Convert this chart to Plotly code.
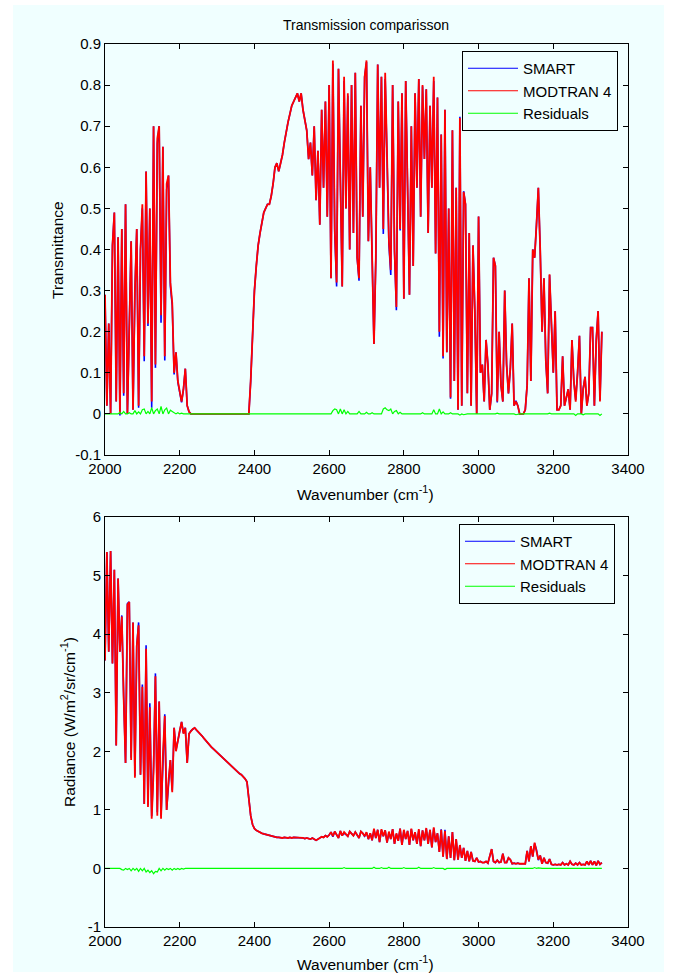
import numpy as np
import plotly.graph_objects as go

# ---------------- data ----------------
wn_start, wn_stop, wn_step = 2000, 3330, 5
wavenumber = np.arange(wn_start, wn_stop + 1, wn_step)

trans_modtran = [
    0.29, 0.02, 0.22, 0.00, 0.41, 0.49, 0.03, 0.43, 0.00, 0.45,
    0.05, 0.51, 0.00, 0.23, 0.42, 0.01, 0.30, 0.45, 0.02, 0.40,
    0.51, 0.14, 0.59, 0.22, 0.50, 0.03, 0.70, 0.12, 0.67, 0.70,
    0.24, 0.65, 0.14, 0.56, 0.58, 0.32, 0.27, 0.10, 0.15, 0.08,
    0.05, 0.03, 0.06, 0.11, 0.02, 0.005, 0.0, 0.0, 0.0, 0.0,
    0.0, 0.0, 0.0, 0.0, 0.0, 0.0, 0.0, 0.0, 0.0, 0.0,
    0.0, 0.0, 0.0, 0.0, 0.0, 0.0, 0.0, 0.0, 0.0, 0.0,
    0.0, 0.0, 0.0, 0.0, 0.0, 0.0, 0.0, 0.0, 0.08, 0.20,
    0.30, 0.36, 0.41, 0.44, 0.47, 0.49, 0.50, 0.51, 0.51, 0.53,
    0.56, 0.60, 0.61, 0.59, 0.61, 0.63, 0.66, 0.69, 0.71, 0.73,
    0.75, 0.76, 0.77, 0.78, 0.76, 0.78, 0.74, 0.71, 0.69, 0.62,
    0.66, 0.58, 0.70, 0.52, 0.64, 0.46, 0.74, 0.55, 0.76, 0.48,
    0.80, 0.33, 0.86, 0.45, 0.32, 0.84, 0.58, 0.31, 0.82, 0.50,
    0.78, 0.40, 0.80, 0.44, 0.83, 0.38, 0.33, 0.75, 0.48, 0.82,
    0.86, 0.42, 0.60, 0.35, 0.17, 0.38, 0.85, 0.55, 0.82, 0.45,
    0.83, 0.63, 0.42, 0.35, 0.80, 0.40, 0.26, 0.76, 0.45, 0.78,
    0.28, 0.81, 0.50, 0.29, 0.70, 0.36, 0.78, 0.55, 0.815, 0.48,
    0.80, 0.62, 0.79, 0.44, 0.75, 0.55, 0.82, 0.39, 0.77, 0.20,
    0.68, 0.14, 0.74, 0.15, 0.50, 0.04, 0.69, 0.08, 0.55, 0.01,
    0.72, 0.02, 0.54, 0.51, 0.05, 0.44, 0.02, 0.41, 0.25, 0.00,
    0.48, 0.10, 0.12, 0.03, 0.18, 0.12, 0.01, 0.05, 0.38, 0.36,
    0.03, 0.20, 0.07, 0.03, 0.30, 0.12, 0.05, 0.11, 0.22, 0.02,
    0.03, 0.02, 0.00, 0.00, 0.00, 0.01, 0.07, 0.33, 0.08, 0.40,
    0.38, 0.46, 0.55, 0.40, 0.20, 0.33, 0.13, 0.05, 0.34, 0.22,
    0.10, 0.25, 0.01, 0.01, 0.02, 0.14, 0.02, 0.04, 0.06, 0.01,
    0.18, 0.08, 0.03, 0.10, 0.19, 0.00, 0.06, 0.09, 0.02, 0.05,
    0.21, 0.21, 0.02, 0.18, 0.25, 0.03, 0.20,
]

# residuals (MODTRAN - SMART), non-zero points only
trans_residual_pts = {
    2040: 0.004, 2050: 0.006, 2065: 0.003, 2080: 0.008, 2090: 0.005,
    2100: 0.010, 2105: 0.012, 2115: 0.006, 2125: 0.015, 2135: 0.008,
    2140: 0.012, 2150: 0.018, 2160: 0.010, 2165: 0.014, 2175: 0.009,
    2180: 0.006, 2185: 0.004, 2195: 0.003, 2205: 0.002,
    2610: 0.008, 2615: 0.012, 2620: 0.010, 2630: 0.012, 2640: 0.010,
    2650: 0.006, 2680: 0.006, 2700: 0.004, 2715: 0.003, 2745: 0.012,
    2750: 0.015, 2755: 0.010, 2760: 0.008, 2765: 0.012, 2775: 0.006,
    2780: 0.008, 2790: 0.004, 2850: 0.003, 2880: 0.010, 2895: 0.012,
    2905: 0.005, 2925: 0.003, 2950: -0.003, 2960: -0.002, 3050: 0.002,
    3100: -0.002, 3190: 0.002, 3260: -0.004, 3280: -0.002, 3325: -0.004,
}

rad_modtran = [
    3.55, 5.40, 3.70, 5.42, 3.50, 5.10, 2.10, 4.95, 3.70, 4.30,
    2.90, 1.80, 4.50, 4.55, 1.85, 4.20, 1.55, 3.80, 4.15, 1.60,
    3.10, 1.10, 3.75, 1.05, 2.75, 0.85, 1.65, 3.28, 0.90, 2.85,
    0.85, 1.95, 2.60, 1.00, 1.50, 1.85, 1.30, 2.40, 2.00, 2.20,
    2.35, 2.50, 2.30, 2.40, 1.80, 2.30, 2.35, 2.38, 2.40, 2.36,
    2.33, 2.30, 2.26, 2.22, 2.18, 2.13, 2.10, 2.07, 2.04, 2.01,
    1.98, 1.95, 1.92, 1.89, 1.86, 1.82, 1.79, 1.76, 1.73, 1.70,
    1.68, 1.65, 1.62, 1.60, 1.57, 1.53, 1.48, 1.20, 0.90, 0.75,
    0.68, 0.65, 0.63, 0.62, 0.60, 0.59, 0.58, 0.58, 0.57, 0.56,
    0.55, 0.54, 0.53, 0.53, 0.52, 0.52, 0.53, 0.52, 0.52, 0.53,
    0.52, 0.53, 0.53, 0.53, 0.52, 0.52, 0.52, 0.51, 0.52, 0.51,
    0.50, 0.52, 0.50, 0.48, 0.50, 0.52, 0.54, 0.53, 0.56, 0.54,
    0.57, 0.62, 0.55, 0.63, 0.58, 0.52, 0.64, 0.56, 0.62, 0.58,
    0.55, 0.63, 0.60, 0.56, 0.62, 0.57, 0.52, 0.63, 0.60, 0.55,
    0.62, 0.50, 0.60, 0.48, 0.68, 0.52, 0.66, 0.45, 0.67, 0.55,
    0.65, 0.44, 0.63, 0.50, 0.67, 0.42, 0.60, 0.47, 0.68, 0.40,
    0.66, 0.50, 0.64, 0.40, 0.68, 0.48, 0.62, 0.42, 0.67, 0.38,
    0.65, 0.48, 0.69, 0.42, 0.66, 0.36, 0.70, 0.45, 0.60, 0.28,
    0.66, 0.20, 0.64, 0.16, 0.55, 0.18, 0.62, 0.14, 0.50, 0.15,
    0.40, 0.18, 0.35, 0.13, 0.30, 0.12, 0.28, 0.13, 0.12, 0.18,
    0.11, 0.12, 0.10, 0.10, 0.12, 0.09, 0.20, 0.33, 0.12, 0.10,
    0.14, 0.10, 0.11, 0.25, 0.10, 0.10, 0.18, 0.15, 0.08, 0.09,
    0.08, 0.09, 0.08, 0.08, 0.09, 0.08, 0.30, 0.12, 0.38, 0.20,
    0.44, 0.32, 0.15, 0.22, 0.08, 0.18, 0.10, 0.09, 0.16, 0.07,
    0.06, 0.07, 0.06, 0.07, 0.06, 0.10, 0.06, 0.08, 0.06, 0.12,
    0.07, 0.06, 0.09, 0.06, 0.10, 0.06, 0.07, 0.06, 0.12, 0.06,
    0.13, 0.06, 0.12, 0.05, 0.13, 0.07, 0.10,
]

rad_residual_pts = {
    2045: -0.02, 2050: -0.03, 2060: -0.02, 2070: -0.04, 2080: -0.03,
    2090: -0.05, 2100: -0.04, 2110: -0.06, 2115: -0.03, 2120: -0.07,
    2125: -0.04, 2130: -0.09, 2135: -0.05, 2140: -0.06, 2150: -0.04,
    2160: -0.03, 2170: -0.02, 2180: -0.03, 2190: -0.02, 2200: -0.02,
    2210: -0.01, 2610: 0.01, 2640: 0.015, 2700: 0.01, 2720: 0.02,
    2740: 0.015, 2760: 0.02, 2780: 0.01, 2800: 0.015, 2820: 0.01,
    2840: 0.02, 2860: 0.01, 2880: 0.015, 2900: -0.01, 2910: -0.02,
    3150: 0.015, 3160: 0.01,
}

x_ticks = [2000, 2200, 2400, 2600, 2800, 3000, 3200, 3400]
trans_ticks = [-0.1, 0, 0.1, 0.2, 0.3, 0.4, 0.5, 0.6, 0.7, 0.8, 0.9]
trans_tick_text = ["-0.1", "0", "0.1", "0.2", "0.3", "0.4", "0.5", "0.6", "0.7", "0.8", "0.9"]
rad_ticks = [-1, 0, 1, 2, 3, 4, 5, 6]
rad_tick_text = ["-1", "0", "1", "2", "3", "4", "5", "6"]

series_names = ["SMART", "MODTRAN 4", "Residuals"]
series_colors = ["#0000FF", "#FF0000", "#00FF00"]
series_widths = [1.6, 1.8, 1.2]

# ---------------- build ----------------
assert len(trans_modtran) == len(wavenumber) == len(rad_modtran)
trans_mod = np.array(trans_modtran)
rad_mod = np.array(rad_modtran)
trans_res = np.array([trans_residual_pts.get(int(w), 0.0) for w in wavenumber])
rad_res = np.array([rad_residual_pts.get(int(w), 0.0) for w in wavenumber])
trans_smart = trans_mod - trans_res
rad_smart = rad_mod - rad_res

W, H = 681, 976
BG = "#F0FFFF"
FONT = "Liberation Sans, Arial, Helvetica, sans-serif"

def px_x(p):
    return p / W

def px_y(p):
    return 1 - p / H

fig = go.Figure()

panels = [("x", "y", "legend", [trans_smart, trans_mod, trans_res]),
          ("x2", "y2", "legend2", [rad_smart, rad_mod, rad_res])]
for xa, ya, lg, series in panels:
    for name, col, wd, ys in zip(series_names, series_colors, series_widths, series):
        fig.add_trace(go.Scatter(x=wavenumber, y=ys, mode="lines", name=name,
                                 line=dict(color=col, width=wd), xaxis=xa, yaxis=ya,
                                 showlegend=False))
    # thin legend keys (no data)
    for name, col in zip(series_names, series_colors):
        fig.add_trace(go.Scatter(x=[None], y=[None], mode="lines", name=name,
                                 line=dict(color=col, width=1), xaxis=xa, yaxis=ya,
                                 legend=lg, showlegend=True))

axis_common = dict(showline=True, linecolor="black", linewidth=1, mirror="ticks",
                   ticks="inside", ticklen=5, tickcolor="black", showgrid=False,
                   zeroline=False, automargin=False,
                   tickfont=dict(family=FONT, size=15, color="black"))

xd = [px_x(105), px_x(628)]
legend_common = dict(xanchor="left", yanchor="top", bgcolor=BG, bordercolor="black",
                     borderwidth=1, font=dict(family=FONT, size=15, color="black"),
                     itemwidth=50, tracegroupgap=0)
fig.update_layout(
    width=W, height=H,
    margin=dict(l=0, r=0, t=0, b=0),
    paper_bgcolor="white", plot_bgcolor=BG,
    font=dict(family=FONT, size=15, color="black"),
    xaxis=dict(domain=xd, range=[2000, 3400], tickvals=x_ticks, anchor="y", **axis_common),
    yaxis=dict(domain=[px_y(455), px_y(44)], range=[-0.1, 0.9], tickvals=trans_ticks,
               ticktext=trans_tick_text, anchor="x", **axis_common),
    xaxis2=dict(domain=xd, range=[2000, 3400], tickvals=x_ticks, anchor="y2", **axis_common),
    yaxis2=dict(domain=[px_y(927), px_y(517)], range=[-1, 6], tickvals=rad_ticks,
                ticktext=rad_tick_text, anchor="x2", **axis_common),
    legend=dict(x=px_x(462), y=px_y(51), **legend_common),
    legend2=dict(x=px_x(459), y=px_y(524), **legend_common),
    shapes=[dict(type="rect", xref="paper", yref="paper",
                 x0=px_x(13), x1=px_x(664), y0=px_y(972), y1=px_y(5),
                 fillcolor=BG, line=dict(width=0), layer="below")],
    annotations=[
        dict(text="Transmission comparisson", x=px_x(366), y=px_y(25), xref="paper", yref="paper",
             showarrow=False, font=dict(size=14), xanchor="center", yanchor="middle"),
        dict(text="Wavenumber (cm<sup>-1</sup>)", x=px_x(366), y=px_y(493), xref="paper", yref="paper",
             showarrow=False, font=dict(size=15.5), xanchor="center", yanchor="middle"),
        dict(text="Wavenumber (cm<sup>-1</sup>)", x=px_x(366), y=px_y(963), xref="paper", yref="paper",
             showarrow=False, font=dict(size=15.5), xanchor="center", yanchor="middle"),
        dict(text="Transmittance", x=px_x(58), y=px_y(250), xref="paper", yref="paper",
             showarrow=False, font=dict(size=15.5), textangle=-90, xanchor="center", yanchor="middle"),
        dict(text="Radiance (W/m<sup>2</sup>/sr/cm<sup>-1</sup>)", x=px_x(68), y=px_y(722),
             xref="paper", yref="paper", showarrow=False, font=dict(size=15.5), textangle=-90,
             xanchor="center", yanchor="middle"),
    ],
)

fig.write_html("out.html", config={"displayModeBar": False},
               post_script="document.body.style.margin='0';document.body.style.overflow='hidden';")
